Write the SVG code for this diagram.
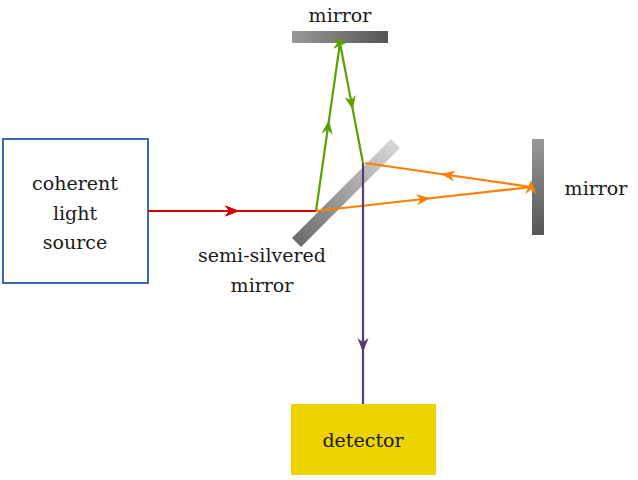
<svg xmlns="http://www.w3.org/2000/svg" width="638" height="480" viewBox="0 0 638 480">
<style>
text{font-family:"DejaVu Serif",serif;font-size:19px;fill:#1a1a1a;text-anchor:middle}
.b{fill:none;stroke-width:2.2}
</style>
<defs>
<linearGradient id="gh" x1="0" x2="1" y1="0" y2="0"><stop offset="0" stop-color="#999"/><stop offset="1" stop-color="#555"/></linearGradient>
<linearGradient id="gv" x1="0" x2="0" y1="0" y2="1"><stop offset="0" stop-color="#999"/><stop offset="1" stop-color="#555"/></linearGradient>
<linearGradient id="gs" x1="0" x2="1" y1="1" y2="0"><stop offset="0" stop-color="#666"/><stop offset="1" stop-color="#ddd"/></linearGradient>
<marker id="ar" viewBox="0 0 10 10" refX="5" refY="5" markerWidth="14" markerHeight="14" markerUnits="userSpaceOnUse" orient="auto"><path d="M0,1 L10,5 L0,9 L3,5 Z" fill="#d40000"/></marker>
<marker id="ag" viewBox="0 0 10 10" refX="5" refY="5" markerWidth="14" markerHeight="14" markerUnits="userSpaceOnUse" orient="auto"><path d="M0,1 L10,5 L0,9 L3,5 Z" fill="#5aa000"/></marker>
<marker id="ao" viewBox="0 0 10 10" refX="5" refY="5" markerWidth="14" markerHeight="14" markerUnits="userSpaceOnUse" orient="auto"><path d="M0,1 L10,5 L0,9 L3,5 Z" fill="#ff7f00"/></marker>
<marker id="ap" viewBox="0 0 10 10" refX="5" refY="5" markerWidth="14" markerHeight="14" markerUnits="userSpaceOnUse" orient="auto"><path d="M0,1 L10,5 L0,9 L3,5 Z" fill="#5a3a7a"/></marker>
</defs>
<g id="top-mirror"><rect x="292" y="31" width="96" height="12" fill="url(#gh)"/><text x="340" y="22">mirror</text></g>
<g id="right-mirror"><rect x="532" y="139" width="12" height="96" fill="url(#gv)"/><text x="596" y="195">mirror</text></g>
<g id="semi-mirror"><path d="M292,238 L391,139 L400,148 L301,247 Z" fill="url(#gs)"/><text x="262" y="262">semi-silvered</text><text x="262" y="292">mirror</text></g>
<g id="source"><rect x="3" y="139" width="145" height="144" fill="#fff" stroke="#3a6db0" stroke-width="2"/><text x="75" y="190">coherent</text><text x="75" y="220">light</text><text x="75" y="249">source</text></g>
<g id="detector"><rect x="291" y="404" width="145" height="71" fill="#edd400"/><text x="363" y="447">detector</text></g>
<g id="connectors">
<path class="b" stroke="#d40000" d="M148,211 L232,211 M232,211 L316,211" marker-mid="url(#ar)"/>
<polyline class="b" stroke="#d40000" points="148,211 232,211 316,211" marker-mid="url(#ar)"/>
<polyline class="b" stroke="#5aa000" points="316,211 328,127 340,43 351.5,103 363,163" marker-mid="url(#ag)"/>
<polyline class="b" stroke="#ff7f00" points="316,211 423.5,199 531,187 448,175 365,163" marker-mid="url(#ao)"/>
<polyline class="b" stroke="#5a3a7a" points="363,163 363,345 363,404" marker-mid="url(#ap)"/>
</g>
</svg>
